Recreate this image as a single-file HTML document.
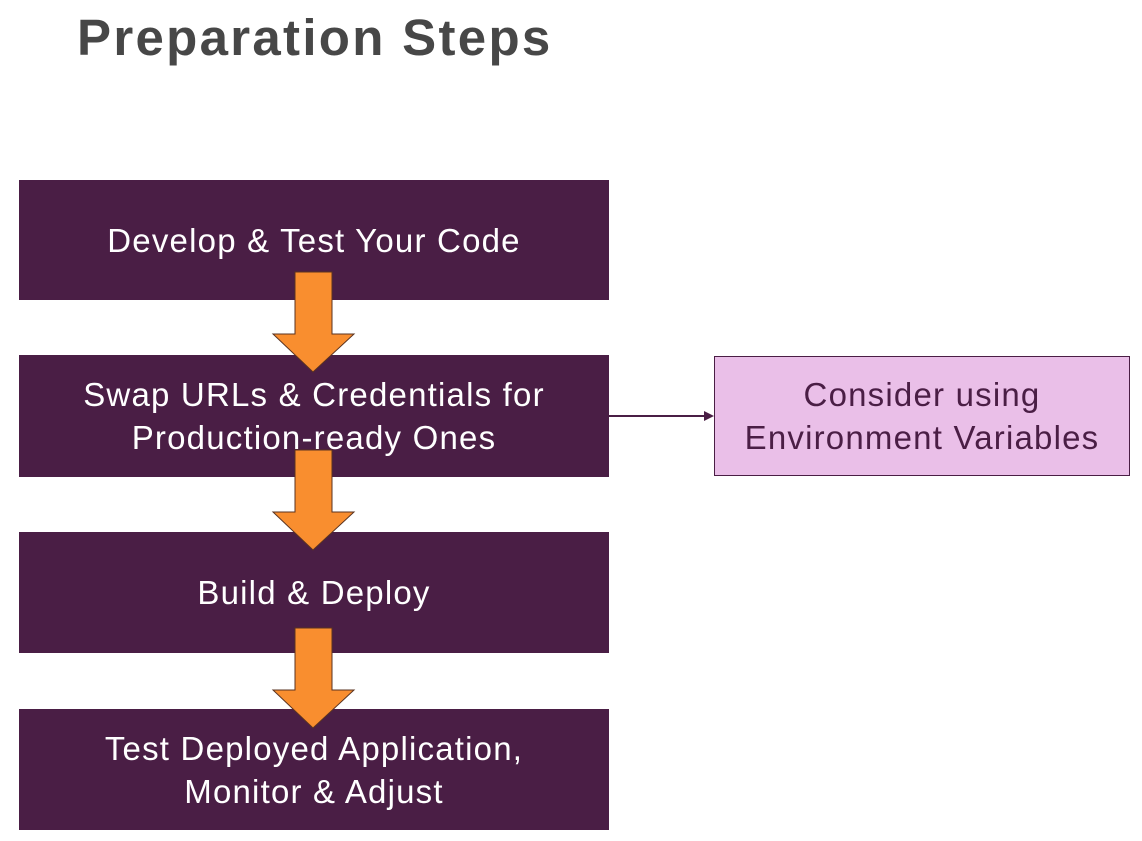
<!DOCTYPE html>
<html><head><style>
body{margin:0;width:1142px;height:841px;background:#fff;position:relative;overflow:hidden;font-family:"Liberation Sans",sans-serif}
.t{position:absolute;left:77px;top:8px;font-size:51px;font-weight:bold;color:#474747;letter-spacing:2.3px}
.b{position:absolute;left:19px;width:590px;background:#4a1e45;color:#fff;font-size:33px;letter-spacing:1.2px;display:flex;align-items:center;justify-content:center;text-align:center;line-height:43px}
.p{position:absolute;left:714px;top:356px;width:414px;height:118px;background:#eabfe8;border:1px solid #4a1e45;color:#4a1e45;font-size:33px;letter-spacing:1.2px;display:flex;align-items:center;justify-content:center;text-align:center;line-height:43px}
svg{position:absolute;left:0;top:0}
</style></head><body>
<div class="t">Preparation Steps</div>
<div class="b" style="top:180px;height:120px">Develop &amp; Test Your Code</div>
<div class="b" style="top:355px;height:122px">Swap URLs &amp; Credentials for<br>Production-ready Ones</div>
<div class="b" style="top:532px;height:121px">Build &amp; Deploy</div>
<div class="b" style="top:709px;height:121px">Test Deployed Application,<br>Monitor &amp; Adjust</div>
<div class="p">Consider using<br>Environment Variables</div>
<svg width="1142" height="841">
<g fill="#f98e2f" stroke="#5a3320" stroke-width="1">
<polygon points="295,272 332,272 332,334 354,334 313,372 273,334 295,334"/>
<polygon points="295,450 332,450 332,512 354,512 313,550 273,512 295,512"/>
<polygon points="295,628 332,628 332,690 354,690 313,728 273,690 295,690"/>
</g>
<line x1="609" y1="416" x2="706" y2="416" stroke="#4a1e45" stroke-width="2"/>
<polygon points="714,416 704,411 704,421" fill="#4a1e45"/>
</svg>
</body></html>
